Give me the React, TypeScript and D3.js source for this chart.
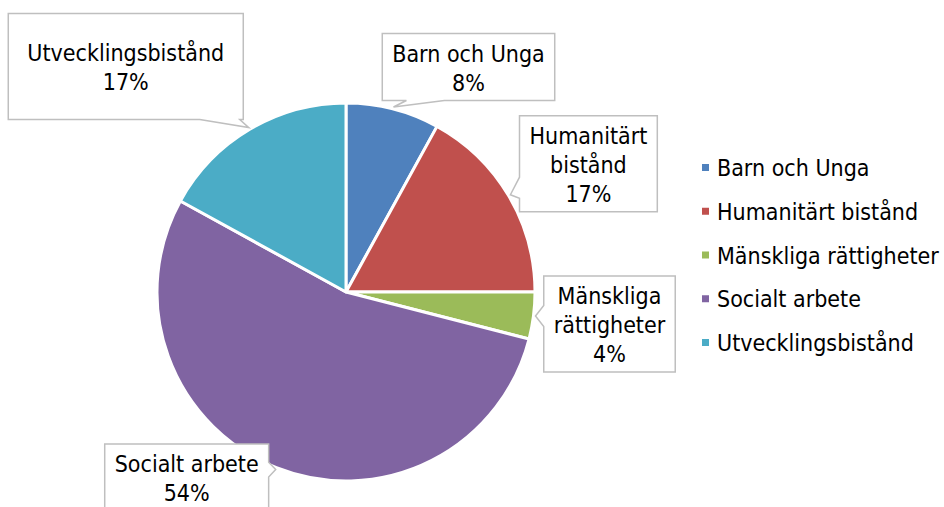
import * as d3 from "d3";
import { useEffect, useRef } from "react";

const categories = [
  "Barn och Unga",
  "Humanitärt bistånd",
  "Mänskliga rättigheter",
  "Socialt arbete",
  "Utvecklingsbistånd",
];
const shares = [8, 17, 4, 54, 17];
const labelLines = [
  ["Barn och Unga"],
  ["Humanitärt", "bistånd"],
  ["Mänskliga", "rättigheter"],
  ["Socialt arbete"],
  ["Utvecklingsbistånd"],
];
const colors = ["#4F81BD", "#C0504D", "#9BBB59", "#8064A2", "#4BACC6"];

// callout box centre, relative to where the pointer touches the slice
const calloutOffsets: [number, number][] = [
  [75, -40],
  [78, -31],
  [74, 8],
  [-89, 8],
  [-123, -61],
];
// the Utvecklingsbistånd box was stretched by hand in the original
const calloutSizes: ([number, number] | null)[] = [null, null, null, null, [235, 106]];

const WIDTH = 944;
const HEIGHT = 507;
const FONT = "'DejaVu Sans Condensed', 'DejaVu Sans', sans-serif";
const FONT_SIZE = 23;
const LINE_H = 29;

export default function App() {
  const ref = useRef<SVGSVGElement>(null);

  useEffect(() => {
    if (!ref.current) return;
    const svg = d3.select(ref.current);
    svg.selectAll("*").remove();

    const cx = 346;
    const cy = 292;
    const radius = 189;

    const pie = d3
      .pie<number>()
      .sort(null)
      .value((d) => d);
    const arcs = pie(shares);

    const arc = d3.arc<d3.PieArcDatum<number>>().innerRadius(0).outerRadius(radius);
    const tipArc = d3
      .arc<d3.PieArcDatum<number>>()
      .innerRadius(radius + 2)
      .outerRadius(radius + 2);

    const g = svg.append("g").attr("transform", `translate(${cx},${cy})`);

    g.selectAll("path.slice")
      .data(arcs)
      .enter()
      .append("path")
      .attr("class", "slice")
      .attr("d", arc)
      .attr("fill", (_, i) => colors[i])
      .attr("stroke", "#fff")
      .attr("stroke-width", 3)
      .attr("stroke-linejoin", "round");

    const clamp = (v: number, lo: number, hi: number) => Math.max(lo, Math.min(hi, v));

    // callouts
    arcs.forEach((a, i) => {
      const [tx, ty] = tipArc.centroid(a);
      const lines = [...labelLines[i], `${shares[i]}%`];
      const bx = tx + calloutOffsets[i][0];
      const by = ty + calloutOffsets[i][1];

      const lg = g.append("g");
      const shape = lg.append("path");
      const texts = lg
        .selectAll("text")
        .data(lines)
        .enter()
        .append("text")
        .attr("x", bx)
        .attr("y", (_, j) => by + (j - (lines.length - 1) / 2) * LINE_H + 9)
        .attr("text-anchor", "middle")
        .attr("font-family", FONT)
        .attr("font-size", FONT_SIZE)
        .attr("fill", "#000")
        .text((d) => d);

      let maxW = 0;
      texts.each(function () {
        maxW = Math.max(maxW, (this as SVGTextElement).getComputedTextLength());
      });
      const size = calloutSizes[i];
      const w = size ? size[0] : maxW + 20;
      const h = size ? size[1] : lines.length * LINE_H + 9;
      const x0 = bx - w / 2;
      const x1 = bx + w / 2;
      const y0 = by - h / 2;
      const y1 = by + h / 2;

      // pick the box edge the pointer leaves from
      const outX = tx < x0 ? x0 - tx : tx > x1 ? tx - x1 : 0;
      const outY = ty < y0 ? y0 - ty : ty > y1 ? ty - y1 : 0;
      let side: "top" | "bottom" | "left" | "right";
      if (outY >= outX) side = ty > y1 ? "bottom" : "top";
      else side = tx < x0 ? "left" : "right";

      const len = side === "left" || side === "right" ? h : w;
      const half = Math.min(len * 0.11, 20);
      const inset = size ? 0.1 : 0.25;
      let pts: [number, number][];
      if (side === "bottom") {
        const m = clamp(tx, x0 + inset * w, x1 - inset * w);
        pts = [
          [x0, y0], [x1, y0], [x1, y1],
          [m + half, y1], [tx, ty], [m - half, y1],
          [x0, y1],
        ];
      } else if (side === "top") {
        const m = clamp(tx, x0 + inset * w, x1 - inset * w);
        pts = [
          [x0, y0], [m - half, y0], [tx, ty], [m + half, y0],
          [x1, y0], [x1, y1], [x0, y1],
        ];
      } else if (side === "left") {
        const m = clamp(ty, y0 + inset * h, y1 - inset * h);
        pts = [
          [x0, y0], [x1, y0], [x1, y1], [x0, y1],
          [x0, m + half], [tx, ty], [x0, m - half],
        ];
      } else {
        const m = clamp(ty, y0 + inset * h, y1 - inset * h);
        pts = [
          [x0, y0], [x1, y0],
          [x1, m - half], [tx, ty], [x1, m + half],
          [x1, y1], [x0, y1],
        ];
      }
      shape
        .attr("d", d3.line()(pts) + "Z")
        .attr("fill", "#fff")
        .attr("stroke", "#bfbfbf")
        .attr("stroke-width", 1.5);
    });

    // legend
    const legendY = d3
      .scalePoint<string>()
      .domain(categories)
      .range([168, 343]);
    const legend = svg
      .append("g")
      .selectAll("g")
      .data(categories)
      .enter()
      .append("g")
      .attr("transform", (d) => `translate(702,${legendY(d)})`);
    legend
      .append("rect")
      .attr("x", 0)
      .attr("y", -4)
      .attr("width", 7)
      .attr("height", 7)
      .attr("fill", (_, i) => colors[i]);
    legend
      .append("text")
      .attr("x", 15)
      .attr("y", 8)
      .attr("font-family", FONT)
      .attr("font-size", FONT_SIZE)
      .attr("fill", "#000")
      .text((d) => d);
  }, []);

  return (
    <div style={{ position: "absolute", left: 0, top: 0 }}>
      <svg ref={ref} width={WIDTH} height={HEIGHT} style={{ display: "block", background: "#fff" }} />
    </div>
  );
}
